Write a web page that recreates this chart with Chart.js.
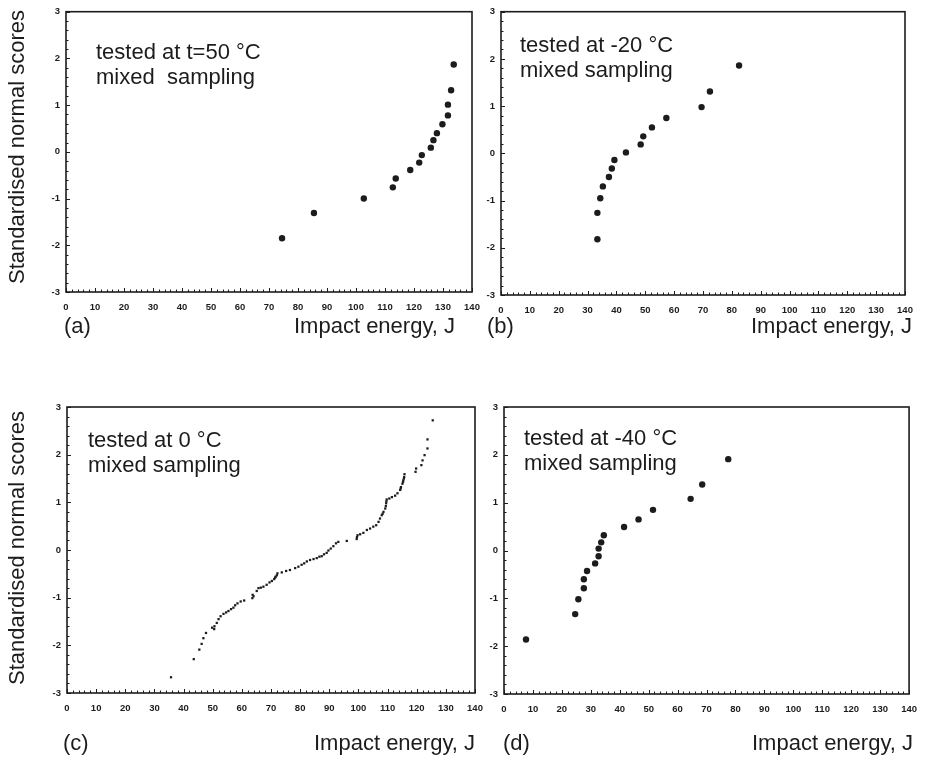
<!DOCTYPE html>
<html><head><meta charset="utf-8">
<script src="https://cdn.jsdelivr.net/npm/chart.js@4/dist/chart.umd.min.js"></script>
<style>
html,body{margin:0;padding:0;background:#fff;}
body{width:927px;height:761px;position:relative;overflow:hidden;font-family:"Liberation Sans",Arial,sans-serif;color:#1c1c1c;}
canvas{position:absolute;}
.t{position:absolute;font-size:22px;line-height:1;white-space:nowrap;}
.yt{position:absolute;font-size:22px;line-height:1;white-space:nowrap;transform:translate(-50%,-50%) rotate(-90deg);}
</style></head><body>
<canvas id="ca" width="500" height="340" style="left:0;top:0"></canvas>
<canvas id="cb" width="497" height="340" style="left:430px;top:0"></canvas>
<canvas id="cc" width="500" height="381" style="left:0;top:380px"></canvas>
<canvas id="cd" width="497" height="381" style="left:430px;top:380px"></canvas>

<div class="yt" style="left:17px;top:147px">Standardised normal scores</div>
<div class="yt" style="left:17px;top:548px">Standardised normal scores</div>
<div class="t" style="left:64px;top:315px">(a)</div>
<div class="t" style="right:472px;top:315px">Impact energy, J</div>
<div class="t" style="left:487px;top:315px">(b)</div>
<div class="t" style="right:15px;top:315px">Impact energy, J</div>
<div class="t" style="left:63px;top:732px">(c)</div>
<div class="t" style="right:452px;top:732px">Impact energy, J</div>
<div class="t" style="left:503px;top:732px">(d)</div>
<div class="t" style="right:14px;top:732px">Impact energy, J</div>

<script>
// ---- data ----
const xTicks = [0,10,20,30,40,50,60,70,80,90,100,110,120,130,140];
const yTicks = [-3,-2,-1,0,1,2,3];

const energyA = [74.5,85.5,102.7,112.7,113.7,118.7,121.8,122.7,125.8,126.7,127.9,129.8,131.7,131.7,132.8,133.7];
const scoreA  = [-1.85,-1.31,-1.00,-0.76,-0.57,-0.39,-0.23,-0.07,0.09,0.25,0.40,0.59,0.78,1.01,1.32,1.87];

const energyB = [33.4,33.4,34.4,35.3,37.4,38.4,39.3,43.3,48.4,49.3,52.3,57.3,69.5,72.4,82.5];
const scoreB  = [-1.82,-1.26,-0.95,-0.70,-0.50,-0.32,-0.14,0.02,0.19,0.36,0.55,0.75,0.98,1.31,1.86];

const energyC = [35.7,43.5,45.4,46.2,46.8,47.7,49.8,50.5,50.6,51.4,52.0,52.7,53.7,54.6,55.4,56.3,57.1,57.7,58.5,59.6,60.8,
  63.6,63.7,64.0,65.1,65.7,66.5,67.4,68.5,69.5,70.3,71.1,71.4,71.6,72.0,72.2,73.7,75.2,76.5,78.3,79.4,80.5,81.4,82.3,83.4,
  84.6,85.7,86.6,87.4,88.2,89.1,89.7,90.5,91.4,92.3,93.1,96.0,99.4,99.5,99.7,100.6,101.7,102.9,104.0,105.1,106.1,106.9,
  107.4,108.0,108.3,108.6,109.2,109.4,109.5,109.6,109.7,110.6,111.5,112.6,113.4,114.3,114.5,114.6,115.1,115.3,115.4,115.6,
  115.7,115.8,119.6,119.8,121.6,122.0,122.7,123.7,123.7,125.5];
const scoreC  = [-2.67,-2.29,-2.09,-1.97,-1.85,-1.74,-1.63,-1.66,-1.60,-1.53,-1.45,-1.39,-1.34,-1.31,-1.28,-1.24,-1.21,-1.16,-1.12,-1.08,-1.06,
  -1.01,-0.94,-0.97,-0.86,-0.80,-0.79,-0.77,-0.73,-0.68,-0.65,-0.61,-0.58,-0.56,-0.53,-0.49,-0.47,-0.44,-0.42,-0.38,-0.35,-0.31,-0.28,-0.24,-0.21,
  -0.19,-0.17,-0.14,-0.13,-0.09,-0.06,-0.01,0.03,0.08,0.14,0.17,0.19,0.23,0.27,0.31,0.33,0.36,0.42,0.45,0.49,0.52,0.59,
  0.66,0.73,0.76,0.80,0.87,0.92,0.98,1.02,1.06,1.08,1.11,1.14,1.19,1.26,1.29,1.32,1.39,1.43,1.46,1.50,
  1.53,1.59,1.64,1.71,1.78,1.88,1.99,2.13,2.32,2.72];

const energyD = [7.6,24.6,25.7,27.6,27.6,28.7,31.5,32.7,32.7,33.6,34.5,41.5,46.5,51.5,64.5,68.5,77.5];
const scoreD  = [-1.86,-1.33,-1.02,-0.79,-0.60,-0.43,-0.27,-0.12,0.04,0.17,0.32,0.49,0.65,0.85,1.08,1.38,1.91];

const labelA = ["tested at t=50 °C","mixed  sampling"];
const labelB = ["tested at -20 °C","mixed sampling"];
const labelC = ["tested at 0 °C","mixed sampling"];
const labelD = ["tested at -40 °C","mixed sampling"];

// ---- drawing ----
const INK = '#1c1c1c';
const framePlugin = {
  id: 'frame',
  afterDraw(chart, args, opts) {
    const {ctx, chartArea: a, scales: {x, y}} = chart;
    ctx.save();
    ctx.strokeStyle = INK;
    ctx.lineWidth = 1;
    ctx.beginPath();
    for (let v = 0; v <= 140; v += 2) {
      const px = Math.round(x.getPixelForValue(v)) + 0.5;
      const len = v % 10 === 0 ? 4 : 2.5;
      ctx.moveTo(px, a.bottom); ctx.lineTo(px, a.bottom - len);
    }
    for (let k = -15; k <= 15; k++) {
      const py = Math.round(y.getPixelForValue(k / 5)) + 0.5;
      const len = k % 5 === 0 ? 4 : 2.5;
      ctx.moveTo(a.left, py); ctx.lineTo(a.left + len, py);
    }
    ctx.stroke();
    ctx.lineWidth = 1.6;
    ctx.strokeRect(a.left, a.top, a.right - a.left, a.bottom - a.top);
    // annotation
    ctx.fillStyle = INK;
    ctx.font = '22px "Liberation Sans", Arial, sans-serif';
    ctx.textBaseline = 'alphabetic';
    opts.lines.forEach((s, i) => ctx.fillText(s, opts.x, opts.y + i * 24.5));
    ctx.restore();
  }
};

function makeChart(id, xs, ys, opt) {
  const pts = xs.map((v, i) => ({x: v, y: ys[i]}));
  return new Chart(document.getElementById(id), {
    type: 'scatter',
    data: {datasets: [{
      data: pts,
      backgroundColor: INK, borderColor: INK, borderWidth: 0,
      pointRadius: opt.r, pointStyle: opt.style, pointHoverRadius: opt.r
    }]},
    options: {
      responsive: false, animation: false, events: [],
      layout: {padding: {top: opt.top, right: opt.right, left: 0, bottom: 0}},
      plugins: {legend: {display: false}, tooltip: {enabled: false},
        frame: {lines: opt.lines, x: opt.tx, y: opt.ty}},
      scales: {
        x: {type: 'linear', min: 0, max: 140,
          afterBuildTicks: s => { s.ticks = xTicks.map(v => ({value: v})); },
          afterFit: s => { s.height = opt.xh; },
          grid: {display: false, drawTicks: false},
          border: {display: false},
          ticks: {padding: 10, maxRotation: 0, autoSkip: false, color: INK,
            font: {family: '"Liberation Sans", Arial, sans-serif', size: 9.5, weight: 'bold'}}},
        y: {type: 'linear', min: -3, max: 3,
          afterBuildTicks: s => { s.ticks = yTicks.map(v => ({value: v})); },
          afterFit: s => { s.width = opt.yw; },
          grid: {display: false, drawTicks: false},
          border: {display: false},
          ticks: {padding: 6, color: INK,
            font: {family: '"Liberation Sans", Arial, sans-serif', size: 9.5, weight: 'bold'}}}
      }
    },
    plugins: [framePlugin]
  });
}

makeChart('ca', energyA, scoreA, {r: 3.2, style: 'circle', top: 8, right: 28, xh: 48, yw: 66, lines: labelA, tx: 96, ty: 59});
makeChart('cb', energyB, scoreB, {r: 3.2, style: 'circle', top: 10, right: 22, xh: 45, yw: 71, lines: labelB, tx: 90, ty: 52});
makeChart('cc', energyC, scoreC, {r: 1.6, style: 'rect', top: 27, right: 25, xh: 68, yw: 67, lines: labelC, tx: 88, ty: 67});
makeChart('cd', energyD, scoreD, {r: 3.2, style: 'circle', top: 27, right: 16, xh: 67, yw: 74, lines: labelD, tx: 94, ty: 65});
</script>
</body></html>
